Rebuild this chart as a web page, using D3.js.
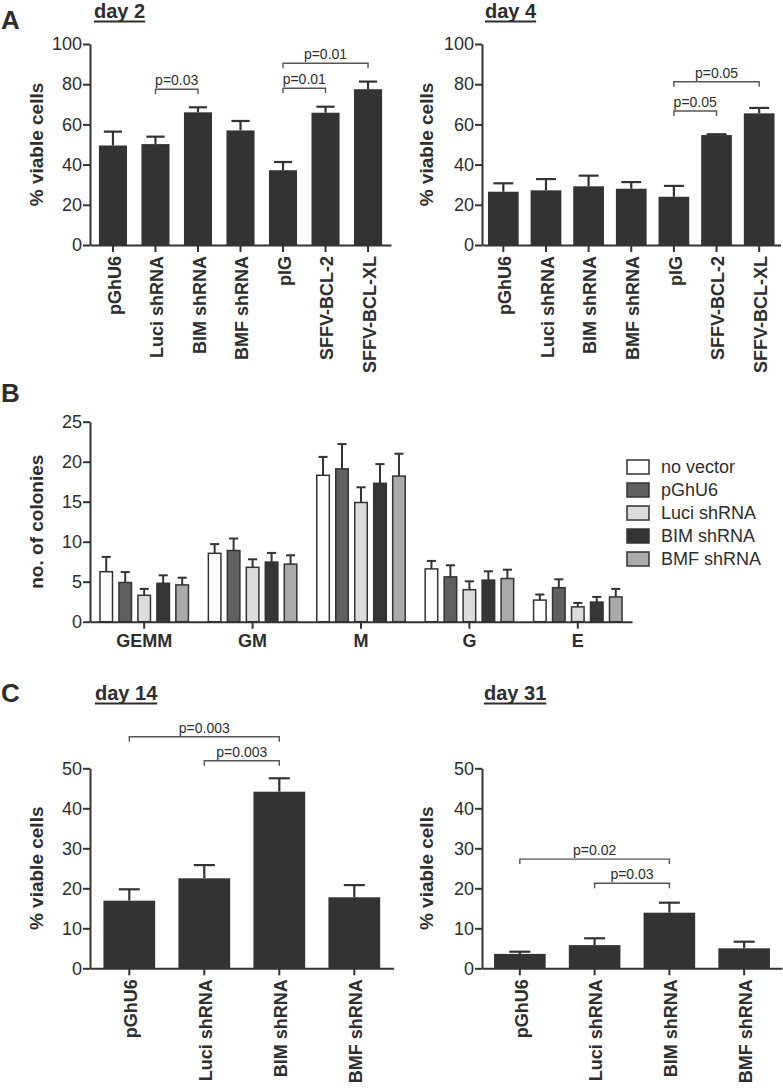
<!DOCTYPE html>
<html>
<head>
<meta charset="utf-8">
<script src="https://cdn.jsdelivr.net/npm/d3@7"></script>
<style>
  body { margin: 0; background: #fff; }
  svg { display: block; }
  text { font-family: "Liberation Sans", Arial, Helvetica, sans-serif; fill: #2e2e2e; }
</style>
</head>
<body>
<svg id="chart" width="783" height="1089"></svg>
<script>
// ---------- DATA ----------
const catsA = ["pGhU6", "Luci shRNA", "BIM shRNA", "BMF shRNA", "pIG", "SFFV-BCL-2", "SFFV-BCL-XL"];
const day2Values = [49.5, 50.2, 66.0, 57.0, 37.2, 65.8, 77.5];
const day2Sem    = [6.9, 3.7, 2.5, 4.7, 4.1, 3.0, 3.8];
const day4Values = [26.5, 27.2, 29.2, 28.0, 24.0, 54.7, 65.5];
const day4Sem    = [4.2, 5.6, 5.3, 3.3, 5.4, 0.4, 2.7];
const day2Brackets = [
  { from: "Luci shRNA", to: "BIM shRNA", level: 77.5, label: "p=0.03" },
  { from: "pIG", to: "SFFV-BCL-2", level: 78, label: "p=0.01" },
  { from: "pIG", to: "SFFV-BCL-XL", level: 90.4, label: "p=0.01" }
];
const day4Brackets = [
  { from: "pIG", to: "SFFV-BCL-2", level: 66.7, label: "p=0.05" },
  { from: "pIG", to: "SFFV-BCL-XL", level: 81.2, label: "p=0.05" }
];
const ticksA = [0, 20, 40, 60, 80, 100];

const groupsB = ["GEMM", "GM", "M", "G", "E"];
const seriesB = ["no vector", "pGhU6", "Luci shRNA", "BIM shRNA", "BMF shRNA"];
const noVectorValues = [6.25, 8.55, 18.3, 6.6, 2.7];
const noVectorSem    = [1.85, 1.15, 2.3, 1.0, 0.7];
const pGhU6Values    = [4.9, 8.9, 19.1, 5.6, 4.25];
const pGhU6Sem       = [1.3, 1.5, 3.1, 1.45, 1.05];
const luciValues     = [3.3, 6.8, 14.9, 4.0, 1.85];
const luciSem        = [0.8, 1.0, 1.9, 1.05, 0.5];
const bimValues      = [4.8, 7.45, 17.3, 5.2, 2.45];
const bimSem         = [1.0, 1.15, 2.4, 1.1, 0.65];
const bmfValues      = [4.6, 7.2, 18.2, 5.4, 3.1];
const bmfSem         = [0.9, 1.1, 2.8, 1.1, 1.0];
const seriesColors   = ["#ffffff", "#606060", "#dcdcdc", "#353535", "#aaaaaa"];
const ticksB = [0, 5, 10, 15, 20, 25];

const catsC = ["pGhU6", "Luci shRNA", "BIM shRNA", "BMF shRNA"];
const day14Values = [16.9, 22.5, 44.15, 17.75];
const day14Sem    = [2.85, 3.3, 3.35, 3.05];
const day31Values = [3.6, 5.8, 13.9, 5.0];
const day31Sem    = [0.55, 1.7, 2.5, 1.65];
const day14Brackets = [
  { from: "pGhU6", to: "BIM shRNA", level: 57.9, label: "p=0.003" },
  { from: "Luci shRNA", to: "BIM shRNA", level: 51.9, label: "p=0.003" }
];
const day31Brackets = [
  { from: "pGhU6", to: "BIM shRNA", level: 27.3, label: "p=0.02" },
  { from: "Luci shRNA", to: "BIM shRNA", level: 21.25, label: "p=0.03" }
];
const ticksC = [0, 10, 20, 30, 40, 50];

// ---------- DRAWING ----------
const svg = d3.select("#chart");
svg.append("rect").attr("width", 783).attr("height", 1089).attr("fill", "#fff");
const INK = "#333333";
const FONT_TICK = "18px";

function styleAxis(g) {
  g.select(".domain").attr("stroke", INK).attr("stroke-width", 2);
  g.selectAll(".tick line").attr("stroke", INK).attr("stroke-width", 2);
  g.selectAll(".tick text").attr("fill", "#333").style("font-family", '"Liberation Sans", Arial, sans-serif');
}

function panelLetter(txt, x, y) {
  svg.append("text").attr("x", x).attr("y", y).text(txt)
    .style("font-size", "26px").style("font-weight", "bold").attr("fill", "#1e1e1e");
}

function title(txt, x, y) {
  const t = svg.append("text").attr("x", x).attr("y", y).text(txt)
    .style("font-size", "20px").style("font-weight", "bold");
  const w = t.node().getComputedTextLength();
  svg.append("line").attr("x1", x).attr("x2", x + w).attr("y1", y + 3.5).attr("y2", y + 3.5)
    .attr("stroke", "#2e2e2e").attr("stroke-width", 2);
}

function yTitle(txt, x, yCenter) {
  svg.append("text")
    .attr("transform", `translate(${x},${yCenter}) rotate(-90)`)
    .attr("text-anchor", "middle")
    .text(txt)
    .style("font-size", "19px").style("font-weight", "bold");
}

function barPanel(cfg) {
  const x = d3.scaleBand().domain(cfg.cats).range(cfg.xRange)
    .paddingInner(cfg.padIn).paddingOuter(cfg.padOut);
  const y = d3.scaleLinear().domain([0, cfg.yMax]).range(cfg.yRange);
  const g = svg.append("g");
  const bw = x.bandwidth();
  const cap = Math.min(21, bw * 0.65);

  // error bars
  cfg.cats.forEach((c, i) => {
    const cx = x(c) + bw / 2;
    const top = y(cfg.values[i] + cfg.sem[i]);
    g.append("line").attr("x1", cx).attr("x2", cx)
      .attr("y1", y(cfg.values[i])).attr("y2", top)
      .attr("stroke", INK).attr("stroke-width", 2.2);
    g.append("line").attr("x1", cx - cap / 2).attr("x2", cx + cap / 2)
      .attr("y1", top).attr("y2", top)
      .attr("stroke", INK).attr("stroke-width", 2.2);
  });
  // bars
  g.selectAll("rect.bar").data(cfg.cats).join("rect")
    .attr("class", "bar")
    .attr("x", c => x(c))
    .attr("width", bw)
    .attr("y", (c, i) => y(cfg.values[i]))
    .attr("height", (c, i) => y(0) - y(cfg.values[i]))
    .attr("fill", INK);

  // axes
  const ya = g.append("g").attr("transform", `translate(${cfg.xRange[0]},0)`)
    .call(d3.axisLeft(y).tickValues(cfg.ticks).tickSize(7).tickSizeOuter(0).tickPadding(1));
  styleAxis(ya);
  ya.selectAll(".tick text").style("font-size", FONT_TICK);
  const xa = g.append("g").attr("transform", `translate(0,${y(0)})`)
    .call(d3.axisBottom(x).tickSize(7).tickSizeOuter(0));
  styleAxis(xa);
  xa.selectAll(".tick text")
    .attr("transform", "rotate(-90)")
    .attr("text-anchor", "end")
    .attr("x", -11)
    .attr("y", 0)
    .attr("dy", "0.43em")
    .style("font-size", "18px").style("font-weight", "bold");

  // brackets
  cfg.brackets.forEach(b => {
    const x1 = x(b.from) + bw / 2, x2 = x(b.to) + bw / 2, yy = y(b.level);
    g.append("path")
      .attr("d", `M${x1},${yy + 5}V${yy}H${x2}V${yy + 5}`)
      .attr("fill", "none").attr("stroke", "#555").attr("stroke-width", 1.4);
    g.append("text").attr("x", (x1 + x2) / 2).attr("y", yy - 4)
      .attr("text-anchor", "middle").text(b.label)
      .style("font-size", "14px").attr("fill", "#3a3a3a");
  });

  yTitle(cfg.yLabel, cfg.yTitleX, (cfg.yRange[0] + cfg.yRange[1]) / 2);
}

// ---- Panel A ----
panelLetter("A", 1, 29);
title("day 2", 94, 18);
title("day 4", 485, 18);
barPanel({
  cats: catsA, values: day2Values, sem: day2Sem, brackets: day2Brackets,
  xRange: [90, 391], padIn: 0.34, padOut: 0.21,
  yMax: 100, yRange: [245, 44], ticks: ticksA,
  yLabel: "% viable cells", yTitleX: 43
});
barPanel({
  cats: catsA, values: day4Values, sem: day4Sem, brackets: day4Brackets,
  xRange: [482, 780.5], padIn: 0.28, padOut: 0.14,
  yMax: 100, yRange: [245, 44], ticks: ticksA,
  yLabel: "% viable cells", yTitleX: 433
});

// ---- Panel B ----
panelLetter("B", 1, 402);
(function () {
  const seriesValues = [noVectorValues, pGhU6Values, luciValues, bimValues, bmfValues];
  const seriesSem = [noVectorSem, pGhU6Sem, luciSem, bimSem, bmfSem];
  const x0 = d3.scaleBand().domain(groupsB).range([90, 632]).paddingInner(0.17).paddingOuter(0.085);
  const x1 = d3.scaleBand().domain(seriesB).range([0, x0.bandwidth()]).paddingInner(0.26);
  const y = d3.scaleLinear().domain([0, 25]).range([621.7, 421.7]);
  const g = svg.append("g");
  const bw = x1.bandwidth();
  const cap = Math.min(21, bw * 0.65);

  groupsB.forEach((grp, gi) => {
    seriesB.forEach((s, si) => {
      const v = seriesValues[si][gi], e = seriesSem[si][gi];
      const cx = x0(grp) + x1(s) + bw / 2;
      g.append("line").attr("x1", cx).attr("x2", cx).attr("y1", y(v)).attr("y2", y(v + e))
        .attr("stroke", INK).attr("stroke-width", 2);
      g.append("line").attr("x1", cx - cap / 2).attr("x2", cx + cap / 2)
        .attr("y1", y(v + e)).attr("y2", y(v + e))
        .attr("stroke", INK).attr("stroke-width", 2);
      g.append("rect")
        .attr("x", x0(grp) + x1(s) + 0.75).attr("width", bw - 1.5)
        .attr("y", y(v)).attr("height", y(0) - y(v))
        .attr("fill", seriesColors[si]).attr("stroke", INK).attr("stroke-width", 1.5);
    });
  });

  const ya = g.append("g").attr("transform", "translate(90,0)")
    .call(d3.axisLeft(y).tickValues(ticksB).tickSize(7).tickSizeOuter(0).tickPadding(1));
  styleAxis(ya);
  ya.selectAll(".tick text").style("font-size", FONT_TICK);
  const xa = g.append("g").attr("transform", `translate(0,${y(0)})`)
    .call(d3.axisBottom(x0).tickSize(7).tickSizeOuter(0).tickPadding(6));
  styleAxis(xa);
  xa.selectAll(".tick text").style("font-size", "18px").style("font-weight", "bold");

  yTitle("no. of colonies", 43, (621.7 + 421.7) / 2);

  // legend
  const lg = svg.append("g");
  seriesB.forEach((s, i) => {
    const yy = 460 + i * 23;
    lg.append("rect").attr("x", 627).attr("y", yy).attr("width", 22).attr("height", 14)
      .attr("fill", seriesColors[i]).attr("stroke", INK).attr("stroke-width", 1.5);
    lg.append("text").attr("x", 661).attr("y", yy + 13).text(s)
      .style("font-size", "18px").attr("fill", "#333");
  });
})();

// ---- Panel C ----
panelLetter("C", 1, 702);
title("day 14", 95, 700);
title("day 31", 484, 700);
barPanel({
  cats: catsC, values: day14Values, sem: day14Sem, brackets: day14Brackets,
  xRange: [90, 393.6], padIn: 0.31, padOut: 0.179,
  yMax: 50, yRange: [968.3, 768.3], ticks: ticksC,
  yLabel: "% viable cells", yTitleX: 43
});
barPanel({
  cats: catsC, values: day31Values, sem: day31Sem, brackets: day31Brackets,
  xRange: [482, 782], padIn: 0.31, padOut: 0.161,
  yMax: 50, yRange: [968.3, 768.3], ticks: ticksC,
  yLabel: "% viable cells", yTitleX: 433
});
</script>
</body>
</html>
